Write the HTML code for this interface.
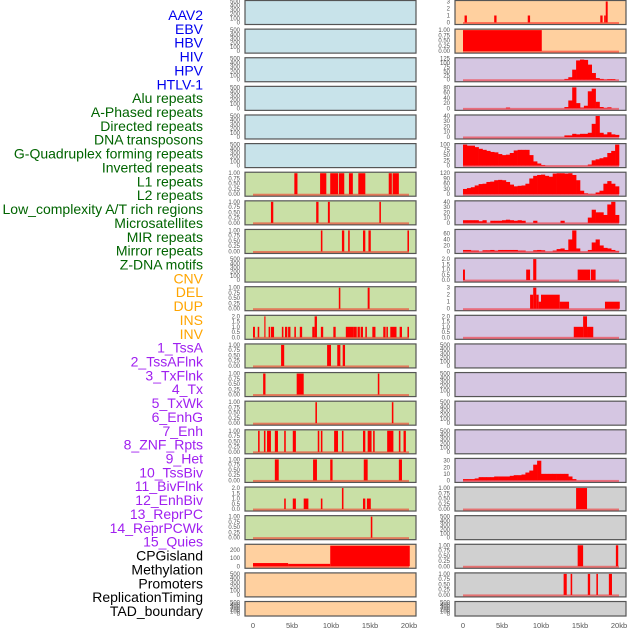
<!DOCTYPE html>
<html><head><meta charset="utf-8"><style>
html,body{margin:0;padding:0;background:#fff}
svg{display:block;font-family:"Liberation Sans",sans-serif}
</style></head><body>
<svg id="chart" width="630" height="630" viewBox="0 0 630 630" xmlns="http://www.w3.org/2000/svg"></svg>
<script>
// ---- data ----
const trackLabels = ["AAV2","EBV","HBV","HIV","HPV","HTLV-1","Alu repeats","A-Phased repeats","Directed repeats","DNA transposons","G-Quadruplex forming repeats","Inverted repeats","L1 repeats","L2 repeats","Low_complexity A/T rich regions","Microsatellites","MIR repeats","Mirror repeats","Z-DNA motifs","CNV","DEL","DUP","INS","INV","1_TssA","2_TssAFlnk","3_TxFlnk","4_Tx","5_TxWk","6_EnhG","7_Enh","8_ZNF_Rpts","9_Het","10_TssBiv","11_BivFlnk","12_EnhBiv","13_ReprPC","14_ReprPCWk","15_Quies","CPGisland","Methylation","Promoters","ReplicationTiming","TAD_boundary"];
const labelGroups = [6,13,5,15,5];
const xTickValues = [0,5,10,15,20];
const xTickLabels = ["0","5kb","10kb","15kb","20kb"];

const leftSegs = [
 [],[],[],[],[],[],
 [[5.3,5.7,1],[8.6,9.4,1],[9.9,10.9,1],[11.0,11.7,1],[12.3,12.8,1],[13.5,14.4,1],[17.4,17.8,1],[17.9,18.7,1]],
 [[2.3,2.6,1],[8.1,8.4,1],[9.6,9.85,1],[16.2,16.4,1]],
 [[8.7,8.9,1],[11.4,11.7,1],[12.2,12.4,1],[14.1,14.4,1],[14.8,15.1,1],[19.8,20.0,1]],
 [],
 [[11.0,11.2,1],[14.7,14.95,1]],
 [[0,0.25,1],[0.6,0.8,1],[1.45,1.6,2],[2.0,2.2,1],[2.3,2.7,1],[3.7,3.9,1],[4.1,4.4,1],[4.5,4.8,1],[5.3,5.5,1],[6.0,6.3,1],[7.6,7.9,1],[7.9,8.2,2],[8.7,9.0,1],[10.3,10.6,1],[11.9,12.9,1],[12.9,13.3,1],[13.4,13.7,1],[13.8,14.1,1],[14.4,14.6,1],[15.3,15.7,1],[16.7,17.0,1],[17.1,17.3,1],[17.6,18.4,1],[18.8,19.1,1],[19.8,20.0,1]],
 [[3.6,4.0,1],[9.5,10.0,1],[10.8,11.2,1],[11.5,11.8,1]],
 [[1.3,1.6,1],[5.6,6.5,1],[16.0,16.2,1]],
 [[8.0,8.2,1],[17.8,18.0,1]],
 [[0.65,0.85,1],[1.4,1.6,1],[1.8,2.3,1],[2.8,3.2,1],[4.0,4.2,1],[5.1,5.5,1],[8.3,8.5,1],[8.7,8.9,1],[10.4,10.9,1],[11.4,11.6,1],[14.1,14.4,1],[14.7,15.2,1],[15.4,15.6,1],[17.2,18.0,1],[18.7,18.9,1],[19.3,19.6,1]],
 [[2.8,3.3,1],[7.7,8.2,1],[9.9,10.2,1],[14.2,14.7,1],[18.7,19.1,1]],
 [[4.0,4.2,1],[5.1,5.5,1],[6.5,7.1,1],[8.7,8.9,1],[11.4,11.6,2],[14.1,14.4,1],[14.6,15.1,1]],
 [[15.1,15.3,1]],
 [[0,4.5,40],[4.5,9.9,30],[9.9,20.1,255]],
 [],[]
];
const hivBins  = [0,0,0,0,0,0,0,0,0,0,0,0,0,0,0,0,0,0,0,0,0,0,0,0,0,0,5,15,60,115,120,118,90,40,10,5,2,4,4,0];
const hpvBins  = [0,0,0,0,0,0,0,0,0,0,0,3,0,0,0,0,0,0,0,0,0,0,0,0,0,0,5,30,80,20,3,10,65,75,25,5,2,4,0,0];
const htlvBins = [0,0,0,0,0,0,0,0,0,0,0,0,0,0,0,0,0,0,0,0,0,0,0,0,0,0,3,3,6,5,6,6,8,25,40,8,5,9,5,4];
const aluBins  = [100,95,95,88,80,75,70,65,63,55,50,52,60,72,75,75,75,50,20,10,3,0,0,0,0,0,0,0,0,0,0,0,5,25,30,35,40,60,70,100];
const aphBins  = [30,35,40,50,58,60,70,72,80,82,80,70,55,45,48,50,60,90,105,110,112,105,100,118,120,120,118,120,110,80,20,5,2,2,10,20,60,75,60,45];
const dirBins  = [5,5,5,5,3,5,0,4,4,4,5,6,5,4,5,4,0,0,4,0,0,0,0,0,0,4,0,0,0,0,0,0,10,25,20,20,15,35,40,15];
const dnaBins  = [5,5,3,3,0,4,4,5,3,5,5,5,5,5,3,3,0,0,4,5,4,0,0,3,8,10,5,40,70,10,0,0,5,30,40,20,12,10,5,2];
const hetBins  = [2,2,2,3,5,5,5,5,6,6,6,6,7,8,8,9,12,15,24,30,10,10,10,10,10,10,10,6,2,0,0,0,0,0,0,0,0,0,0,0];
const rightHist = {2:hivBins,3:hpvBins,4:htlvBins,5:aluBins,6:aphBins,7:dirBins,8:dnaBins,16:hetBins};
const rightSegs = {
 0:[[0.2,0.5,1],[4.0,4.3,1],[8.3,8.6,1],[17.6,17.9,1],[18.1,18.3,1],[18.3,18.55,3]],
 1:[[0,10.1,1]],
 9:[[0,0.25,1],[8.1,8.6,1],[9.0,9.4,2],[14.7,16.3,1],[16.4,17.0,1]],
 10:[[8.6,9.0,2],[9.0,9.4,3],[9.4,9.7,2],[9.7,10.0,1],[10.0,12.4,2],[12.4,13.6,1],[18.2,20.1,1]],
 11:[[14.2,15.4,1],[15.4,15.9,2],[15.9,16.7,1]],
 17:[[14.5,15.9,1]],
 19:[[14.7,15.4,1],[19.6,19.9,1]],
 20:[[12.9,13.3,1],[13.8,14.0,1],[16.0,16.3,1],[17.1,17.3,1],[18.7,19.1,1]]
};
const leftMax  = [500,500,500,500,500,500,1,1,1,500,1,2,1,1,1,1,1,2,1,260,500,500];
const rightMax = [3,1,125,80,40,100,120,40,70,2,3,2,500,500,500,500,32,1,500,1,1,500];
const tickSets = {500:[0,100,200,300,400,500],1:[0,0.25,0.5,0.75,1],2:[0,0.5,1,1.5,2],3:[0,1,2,3],125:[0,25,50,75,100,125],80:[0,20,40,60,80],40:[0,10,20,30,40],100:[0,25,50,75,100],120:[0,30,60,90,120],70:[0,20,40,60],32:[0,10,20,30],260:[0,100,200]};
const leftBg  = ["#c8e3ea","#c8e3ea","#c8e3ea","#c8e3ea","#c8e3ea","#c8e3ea","#c9e0a6","#c9e0a6","#c9e0a6","#c9e0a6","#c9e0a6","#c9e0a6","#c9e0a6","#c9e0a6","#c9e0a6","#c9e0a6","#c9e0a6","#c9e0a6","#c9e0a6","#ffd09f","#ffd09f","#ffd09f"];
const rightBg = ["#ffd09f","#ffd09f","#d5c6e2","#d5c6e2","#d5c6e2","#d5c6e2","#d5c6e2","#d5c6e2","#d5c6e2","#d5c6e2","#d5c6e2","#d5c6e2","#d5c6e2","#d5c6e2","#d5c6e2","#d5c6e2","#d5c6e2","#d0d0d0","#d0d0d0","#d0d0d0","#d0d0d0","#d0d0d0"];

const NS="http://www.w3.org/2000/svg";
const svg=document.getElementById('chart');
function mk(tag,attrs,parent){const e=document.createElementNS(NS,tag);for(const k in attrs)e.setAttribute(k,attrs[k]);(parent||svg).appendChild(e);return e;}
const groupColors=["#0000ee","#006400","#ffa500","#a020f0","#000000"];
let li=0;
labelGroups.forEach((n,g)=>{for(let j=0;j<n;j++){const t=mk('text',{x:203,y:20+li*13.86,'text-anchor':'end','font-size':'14',fill:groupColors[g]});t.textContent=trackLabels[li];


li++;}});
const cols=[{x0:245,x1:416,z:253,bg:leftBg,max:leftMax,name:'left'},{x0:455,x1:626,z:463,bg:rightBg,max:rightMax,name:'right'}];
const pxPerKb=7.8;
for(let c=0;c<2;c++){const col=cols[c];
 const xs=kb=>col.z+kb*pxPerKb;
 for(let r=0;r<22;r++){
  const top=r*28.62, h=(r===21?15.5:25), bot=top+h;
  const m=col.max[r];
  const ys=v=>bot-2.5-(v/m)*(h-4);
  const g=mk('g',{});
  
  
  mk('rect',{x:col.x0,y:top+0.5,width:col.x1-col.x0,height:h-1,fill:col.bg[r],stroke:'#555','stroke-width':1.2},g);
  const ticks=tickSets[m]||[0];
  ticks.forEach(tv=>{const t=mk('text',{x:col.x0-5,y:ys(tv)+2,'text-anchor':'end','font-size':'6',fill:'#555'},g);
   t.textContent=(m===1?tv.toFixed(2):(m===2?tv.toFixed(1):String(tv)));});
  let drew=false;
  const segs=c===0?leftSegs[r]:(rightSegs[r]||null);
  if(segs&&segs.length){drew=true;segs.forEach(s=>{const b=mk('rect',{x:xs(s[0]),y:ys(s[2]),width:Math.max(1,xs(s[1])-xs(s[0])),height:ys(0)-ys(s[2]),fill:'#ff0000'},g);
   
   });}
  const bins=c===1?rightHist[r]:null;
  if(bins){drew=true;bins.forEach((v,i)=>{if(v<=0)return;const b=mk('rect',{x:xs(i*0.5),y:ys(v),width:0.5*pxPerKb+0.3,height:ys(0)-ys(v),fill:'#ff0000'},g);
   
   });}
  if(drew) mk('rect',{x:xs(0),y:ys(0)-0.5,width:xs(20)-xs(0),height:2,fill:'#ff0000',opacity:0.45},g);
 }
 xTickValues.forEach((v,i)=>{const t=mk('text',{x:xs(v),y:628,'text-anchor':'middle','font-size':'7.5',fill:'#555'});t.textContent=xTickLabels[i];
  
  });
}
</script>
</body></html>
